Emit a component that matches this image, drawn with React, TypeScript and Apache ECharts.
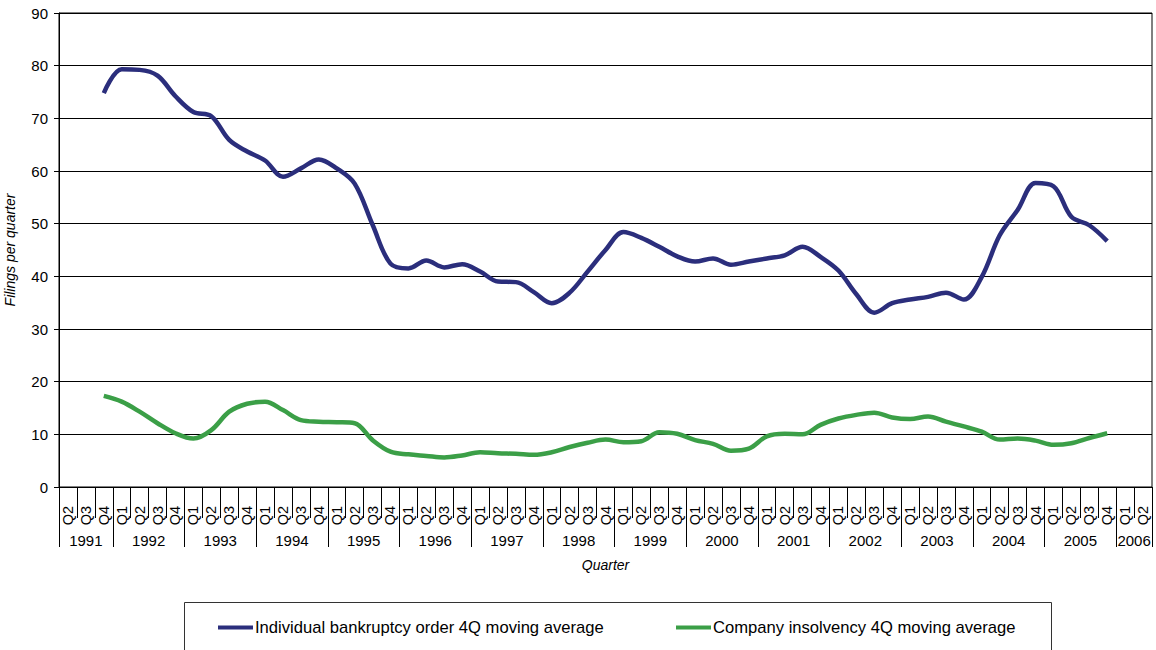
import React, { useEffect, useRef } from "react";
import * as echarts from "echarts";

const years = ["1991", "1992", "1993", "1994", "1995", "1996", "1997", "1998", "1999", "2000", "2001", "2002", "2003", "2004", "2005", "2006"];
const yearQuarters: string[][] = [
  ["Q2", "Q3", "Q4"],
  ["Q1", "Q2", "Q3", "Q4"], ["Q1", "Q2", "Q3", "Q4"], ["Q1", "Q2", "Q3", "Q4"], ["Q1", "Q2", "Q3", "Q4"],
  ["Q1", "Q2", "Q3", "Q4"], ["Q1", "Q2", "Q3", "Q4"], ["Q1", "Q2", "Q3", "Q4"], ["Q1", "Q2", "Q3", "Q4"],
  ["Q1", "Q2", "Q3", "Q4"], ["Q1", "Q2", "Q3", "Q4"], ["Q1", "Q2", "Q3", "Q4"], ["Q1", "Q2", "Q3", "Q4"],
  ["Q1", "Q2", "Q3", "Q4"], ["Q1", "Q2", "Q3", "Q4"],
  ["Q1", "Q2"],
];

// Values from 1991 Q2 to 2006 Q2 (null = no data)
const individual = [
  null, null, 74.8,
  79.3, 79.2, 78.1, 74.2,
  71.2, 70.4, 65.9, 63.7,
  62.0, 58.9, 60.5, 62.2,
  60.5, 57.6, 49.8, 42.4,
  41.5, 43.0, 41.7, 42.3,
  40.9, 39.0, 38.9, 37.0,
  34.9, 36.9, 40.9, 45.0,
  48.4, 47.3, 45.6, 43.8,
  42.8, 43.4, 42.2, 42.8,
  43.4, 44.0, 45.6, 43.7,
  41.1, 36.6, 33.1, 34.9,
  35.6, 36.1, 36.9, 35.6,
  39.9, 47.8, 52.6, 57.7,
  57.1, 51.3, 49.7, 46.7,
  null, null,
];
const company = [
  null, null, 17.3,
  16.2, 14.3, 12.1, 10.2,
  9.2, 10.8, 14.3, 15.8,
  16.2, 14.6, 12.7, 12.4,
  12.3, 12.1, 8.9, 6.7,
  6.2, 5.9, 5.6, 6.0,
  6.6, 6.4, 6.3, 6.1,
  6.6, 7.6, 8.4, 9.0,
  8.5, 8.7, 10.4, 10.1,
  8.9, 8.2, 6.9, 7.3,
  9.6, 10.1, 10.0, 11.8,
  13.0, 13.7, 14.1, 13.2,
  12.9, 13.4, 12.4, 11.5,
  10.5, 9.0, 9.2, 8.8,
  8.0, 8.3, 9.3, 10.2,
  null, null,
];

const seriesNames = ["Individual bankruptcy order 4Q moving average", "Company insolvency 4Q moving average"];
const colors = ["#2B2E7C", "#3B9F47"];

const FONT = "'Liberation Sans', Arial, sans-serif";

export default function App() {
  const ref = useRef<HTMLDivElement>(null);
  useEffect(() => {
    if (!ref.current) return;
    const chart = echarts.init(ref.current, null, { renderer: "svg" });

    const quarters: string[] = [];
    const boundaries: number[] = [0];
    const centers: number[] = [];
    const centerLabel: Record<string, string> = {};
    yearQuarters.forEach((qs, i) => {
      const start = quarters.length;
      qs.forEach((q) => quarters.push(q));
      const end = quarters.length;
      boundaries.push(end);
      const c = (start + end) / 2;
      centers.push(c);
      centerLabel[String(c)] = years[i];
    });
    const total = quarters.length;

    chart.setOption({
      animation: false,
      backgroundColor: "#fff",
      textStyle: { fontFamily: FONT },
      grid: {
        left: 59,
        right: 4,
        top: 13,
        bottom: 163,
        show: true,
        borderColor: "#000",
        borderWidth: 1,
        containLabel: false,
        outerBoundsMode: "none",
      },
      xAxis: [
        {
          type: "category",
          data: quarters,
          boundaryGap: true,
          name: "Quarter",
          nameLocation: "middle",
          nameGap: 71,
          nameTextStyle: { fontSize: 14, fontStyle: "italic", color: "#000", fontFamily: FONT },
          axisLine: { lineStyle: { color: "#000", width: 1 } },
          axisTick: { show: true, interval: 0, length: 31, lineStyle: { color: "#000" } },
          axisLabel: { interval: 0, rotate: 90, margin: 19, fontSize: 14.5, color: "#000", fontFamily: FONT },
          splitLine: { show: false },
        },
        {
          type: "value",
          min: 0,
          max: total,
          position: "bottom",
          axisLine: { show: false },
          splitLine: { show: false },
          axisTick: { show: true, customValues: boundaries, length: 60, lineStyle: { color: "#000" } },
          axisLabel: {
            customValues: centers,
            margin: 46,
            fontSize: 15,
            color: "#000",
            fontFamily: FONT,
            formatter: (v: number) => centerLabel[String(v)] ?? "",
          },
        },
      ],
      yAxis: {
        type: "value",
        min: 0,
        max: 90,
        interval: 10,
        name: "Filings per quarter",
        nameLocation: "middle",
        nameGap: 42,
        nameRotate: 90,
        nameTextStyle: { fontSize: 14, fontStyle: "italic", color: "#000", fontFamily: FONT },
        axisLine: { show: true, lineStyle: { color: "#000" } },
        axisTick: { show: true, length: 5, lineStyle: { color: "#000" } },
        axisLabel: { fontSize: 15, color: "#000", margin: 11, fontFamily: FONT },
        splitLine: { show: true, lineStyle: { color: "#000", width: 1 } },
      },
      legend: [
        {
          data: [seriesNames[0]],
          left: 218,
          top: 619,
          padding: 0,
          icon: "rect",
          itemWidth: 35,
          itemHeight: 4,
          itemGap: 0,
          textStyle: { fontSize: 16.6, color: "#000", fontFamily: FONT, padding: [0, 0, 0, -3] },
        },
        {
          data: [seriesNames[1]],
          left: 676,
          top: 619,
          padding: 0,
          icon: "rect",
          itemWidth: 35,
          itemHeight: 4,
          itemGap: 0,
          textStyle: { fontSize: 16.6, color: "#000", fontFamily: FONT, padding: [0, 0, 0, -3] },
        },
      ],
      graphic: [
        {
          type: "rect",
          shape: { x: 184.5, y: 602.5, width: 867, height: 80 },
          style: { fill: "none", stroke: "#333", lineWidth: 1 },
          silent: true,
          z: -1,
        },
      ],
      series: [
        {
          name: seriesNames[0],
          type: "line",
          data: individual,
          xAxisIndex: 0,
          smooth: 0.35,
          showSymbol: false,
          symbol: "none",
          lineStyle: { color: colors[0], width: 4.5 },
          itemStyle: { color: colors[0] },
        },
        {
          name: seriesNames[1],
          type: "line",
          data: company,
          xAxisIndex: 0,
          smooth: 0.35,
          showSymbol: false,
          symbol: "none",
          lineStyle: { color: colors[1], width: 4.5 },
          itemStyle: { color: colors[1] },
        },
      ],
    });
    return () => chart.dispose();
  }, []);
  return (
    <div
      ref={ref}
      style={{ position: "fixed", left: 0, top: 0, width: 1156, height: 650, background: "#fff" }}
    />
  );
}
